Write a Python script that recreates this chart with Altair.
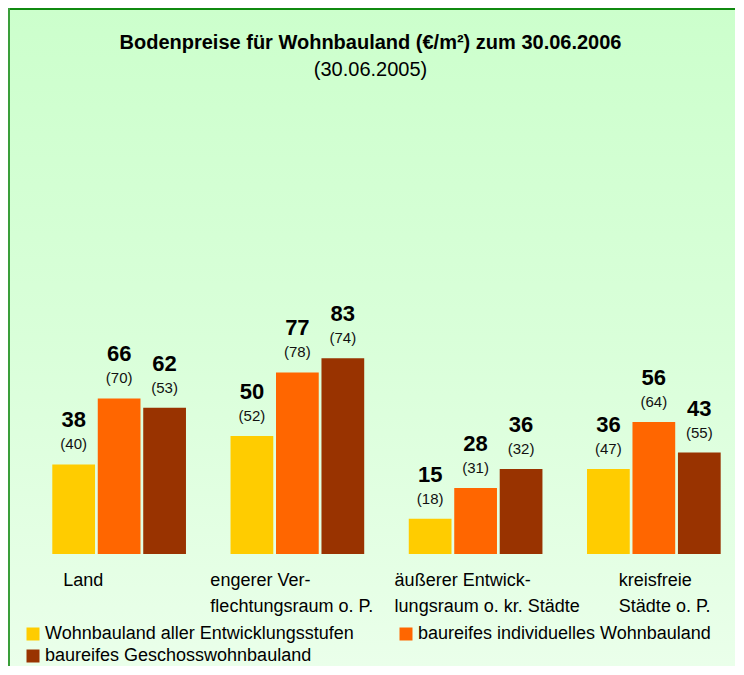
import altair as alt
import pandas as pd

categories = [
    "Land",
    "engerer Ver-\nflechtungsraum o. P.",
    "äußerer Entwick-\nlungsraum o. kr. Städte",
    "kreisfreie\nStädte o. P.",
]
series = [
    "Wohnbauland aller Entwicklungsstufen",
    "baureifes individuelles Wohnbauland",
    "baureifes Geschosswohnbauland",
]
colors = ["#FFCC00", "#FF6600", "#993300"]

# 30.06.2006
wohnbauland_2006 = [38, 50, 15, 36]
individuell_2006 = [66, 77, 28, 56]
geschoss_2006 = [62, 83, 36, 43]
# 30.06.2005 (in brackets)
wohnbauland_2005 = [40, 52, 18, 47]
individuell_2005 = [70, 78, 31, 64]
geschoss_2005 = [53, 74, 32, 55]

cur = [wohnbauland_2006, individuell_2006, geschoss_2006]
prev = [wohnbauland_2005, individuell_2005, geschoss_2005]

rows = []
for si, s in enumerate(series):
    for ci, c in enumerate(categories):
        rows.append({"category": c, "series": s, "value": cur[si][ci],
                     "prev": f"({prev[si][ci]})"})
df = pd.DataFrame(rows)

FONT = "Liberation Sans"
W, H = 705, 448
PAD = {"left": 22, "top": 98, "right": 0, "bottom": 112}
TOTAL_H = PAD["top"] + H + PAD["bottom"]

label_offsets = {"Land": -56, "engerer": -87, "äußerer": -81, "kreisfreie": -35}
cond = [{"test": f"indexof(datum.value, '{k}') == 0", "value": v}
        for k, v in list(label_offsets.items())[:3]]
label_offset = {"condition": cond, "value": label_offsets["kreisfreie"]}

x_enc = alt.X(
    "category:N", sort=categories,
    scale=alt.Scale(paddingInner=0.25, paddingOuter=0.1027, align=0.609),
    axis=alt.Axis(
        title=None, ticks=False, domain=False, grid=False, zindex=2,
        labelAlign="left", labelBaseline="top", labelPadding=17,
        labelFont=FONT, labelFontSize=18, labelColor="#000000",
        labelLineHeight=26, labelLimit=0, labelAngle=0,
        labelExpr="split(datum.label, '\\n')",
        labelOffset=label_offset,
    ),
)
xoff_enc = alt.XOffset("series:N", sort=series,
                       scale=alt.Scale(paddingInner=0.06, paddingOuter=0))
y_enc = alt.Y("value:Q", scale=alt.Scale(domain=[0, 190]), axis=None)

frame = pd.DataFrame({"a": [0]})
bg = alt.Chart(frame).mark_rect(
    fill=alt.Gradient(
        gradient="linear",
        stops=[alt.GradientStop(color="#CCFFCC", offset=0),
               alt.GradientStop(color="#D9FFD9", offset=0.5),
               alt.GradientStop(color="#EAFFEA", offset=1)],
        x1=0, y1=0, x2=0, y2=1),
    strokeWidth=0,
).encode(x=alt.value(-PAD["left"]), x2=alt.value(W),
         y=alt.value(-PAD["top"]), y2=alt.value(TOTAL_H - PAD["top"]))

border_top = alt.Chart(frame).mark_rule(color="#108A10", strokeWidth=2).encode(
    x=alt.value(-PAD["left"]), x2=alt.value(W), y=alt.value(-PAD["top"] + 1))
border_left = alt.Chart(frame).mark_rule(color="#3A9E3A", strokeWidth=2).encode(
    x=alt.value(-PAD["left"] + 1), y=alt.value(-PAD["top"]),
    y2=alt.value(TOTAL_H - PAD["top"]))

base = alt.Chart(df)

bars = base.mark_bar().encode(
    x=x_enc, xOffset=xoff_enc, y=y_enc,
    color=alt.Color(
        "series:N", sort=series,
        scale=alt.Scale(domain=series, range=colors),
        legend=alt.Legend(
            title=None, orient="none", legendX=-6, legendY=519,
            direction="horizontal", columns=2, columnPadding=43, rowPadding=4,
            symbolType="square", symbolSize=169, symbolStrokeWidth=0,
            labelFont=FONT, labelFontSize=18, labelColor="#000000",
            labelOffset=3, labelLimit=0, padding=0,
        ),
    ),
)

val_text = base.mark_text(
    font=FONT, fontSize=22, fontWeight="bold", color="#000000",
    baseline="middle", dy=-44,
).encode(x=x_enc, xOffset=xoff_enc, y=y_enc, text="value:Q")

prev_text = base.mark_text(
    font=FONT, fontSize=15, color="#111111",
    baseline="middle", dy=-20,
).encode(x=x_enc, xOffset=xoff_enc, y=y_enc, text="prev:N")

chart = alt.layer(bg, border_top, border_left, bars, val_text, prev_text).properties(
    width=W, height=H,
    autosize=alt.AutoSizeParams(type="none"),
    padding=PAD,
    background="#DDFFDD",
    title=alt.TitleParams(
        text="Bodenpreise für Wohnbauland (€/m²) zum 30.06.2006",
        subtitle="(30.06.2005)",
        font=FONT, fontSize=20, fontWeight="bold", color="#000000",
        subtitleFont=FONT, subtitleFontSize=20, subtitleColor="#000000",
        anchor="middle", dx=-12, offset=-73, subtitlePadding=7,
    ),
).configure_view(stroke=None)

chart.save("out.html", embed_options={"renderer": "svg", "actions": False})
